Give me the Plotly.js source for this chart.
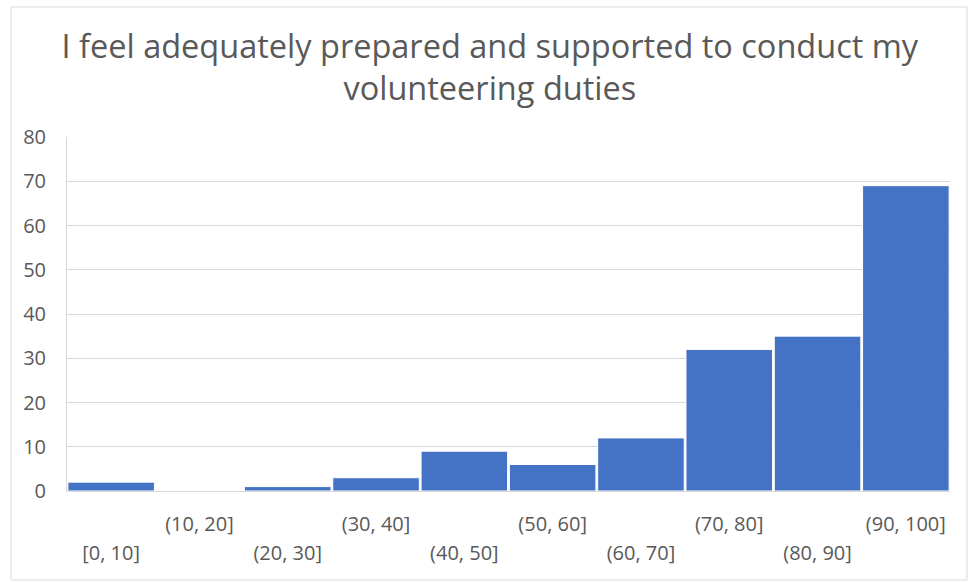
<!DOCTYPE html>
<html>
<head>
<meta charset="utf-8">
<script src="https://cdn.plot.ly/plotly-3.0.1.min.js"></script>
<style>html,body{margin:0;padding:0;background:#fff;}#chart{width:970px;height:582px;}</style>
</head>
<body>
<div id="chart"></div>
<script>
const titleText = "I feel adequately prepared and supported to conduct my<br>volunteering duties";
const categories = ["[0, 10]", "(10, 20]", "(20, 30]", "(30, 40]", "(40, 50]", "(50, 60]", "(60, 70]", "(70, 80]", "(80, 90]", "(90, 100]"];
const counts = [2, 0, 1, 3, 9, 6, 12, 32, 35, 69];
const yTicks = [0, 10, 20, 30, 40, 50, 60, 70, 80];

const positions = categories.map((c, i) => i);
const upperText = categories.map((c, i) => (i % 2 === 1 ? c : ""));
const lowerText = categories.map((c, i) => (i % 2 === 0 ? c : ""));

const textColor = "#595959";
const gridColor = "#d9d9d9";
const fontFamily = "'Open Sans', 'Noto Sans', sans-serif";

const trace = {
  type: "bar",
  x: positions,
  y: counts,
  marker: { color: "#4472C4", line: { color: "#ffffff", width: 1 } },
  hoverinfo: "skip"
};

const layout = {
  width: 970,
  height: 582,
  paper_bgcolor: "#ffffff",
  plot_bgcolor: "#ffffff",
  margin: { l: 67, r: 20, t: 137, b: 91 },
  bargap: 0.02,
  showlegend: false,
  font: { family: fontFamily, color: textColor, size: 20 },
  title: {
    text: titleText,
    x: 0.505,
    xref: "container",
    xanchor: "center",
    y: 0.9,
    yref: "container",
    yanchor: "middle",
    font: { family: fontFamily, size: 32.5, color: textColor }
  },
  xaxis: {
    range: [-0.5, categories.length - 0.5],
    tickmode: "array",
    tickvals: positions,
    ticktext: upperText,
    ticks: "",
    showgrid: false,
    zeroline: false,
    showline: true,
    linecolor: gridColor,
    linewidth: 1,
    ticklabelstandoff: 15,
    tickfont: { family: fontFamily, size: 20, color: textColor },
    fixedrange: true
  },
  xaxis2: {
    matches: "x",
    overlaying: "x",
    anchor: "y",
    side: "bottom",
    tickmode: "array",
    tickvals: positions,
    ticktext: lowerText,
    ticks: "",
    showgrid: false,
    zeroline: false,
    showline: false,
    ticklabelstandoff: 48,
    tickfont: { family: fontFamily, size: 20, color: textColor }
  },
  yaxis: {
    range: [0, 80],
    tickmode: "array",
    tickvals: yTicks,
    ticks: "",
    showgrid: true,
    gridcolor: gridColor,
    gridwidth: 1,
    zeroline: false,
    showline: true,
    linecolor: gridColor,
    ticklabelstandoff: 16,
    tickfont: { family: fontFamily, size: 20, color: textColor },
    fixedrange: true
  },
  shapes: [{
    type: "rect",
    xref: "paper", yref: "paper",
    x0: -56 / 883, x1: 1 + 17 / 883,
    y0: -89 / 354, y1: 1 + 130 / 354,
    line: { color: gridColor, width: 1 },
    fillcolor: "rgba(0,0,0,0)",
    layer: "below"
  }]
};

const ghost = {
  type: "scatter",
  x: positions,
  y: counts,
  xaxis: "x2",
  mode: "markers",
  marker: { opacity: 0 },
  hoverinfo: "skip"
};

Plotly.newPlot("chart", [trace, ghost], layout, { displayModeBar: false, staticPlot: true });
</script>
</body>
</html>
